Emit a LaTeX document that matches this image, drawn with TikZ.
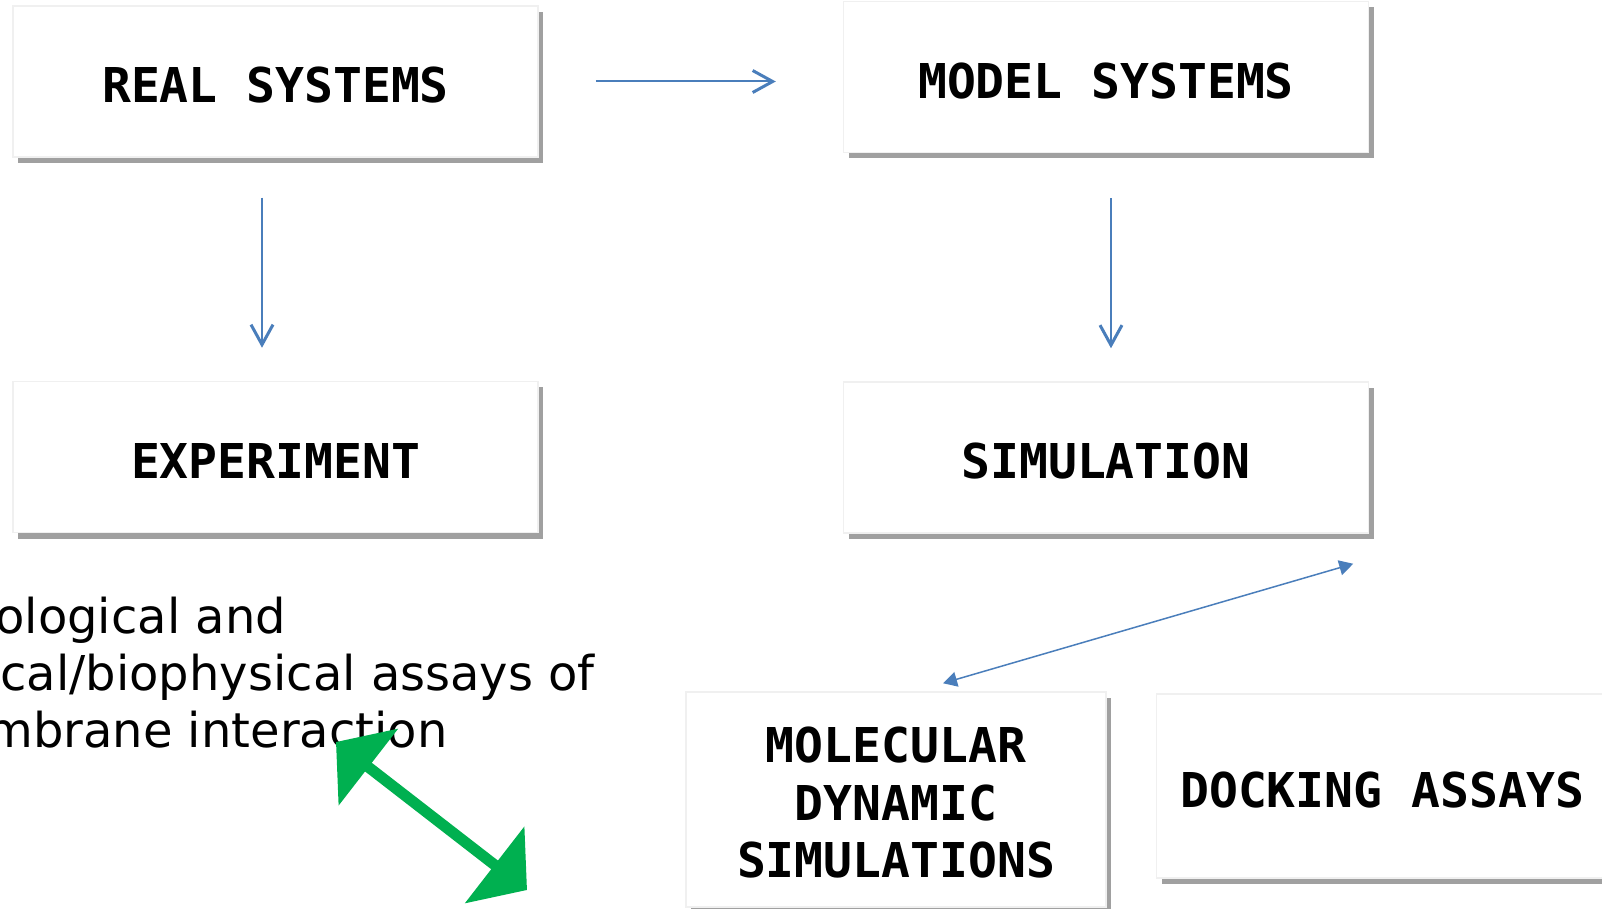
\documentclass[tikz,border=0pt]{standalone}
\usepackage{fontspec}
\setmainfont{DejaVu Sans}
\setmonofont{DejaVu Sans Mono}
\usetikzlibrary{arrows.meta,positioning,shadows}
\definecolor{linkblue}{RGB}{74,126,187}
\definecolor{assaygreen}{RGB}{0,176,80}
\definecolor{shadowgray}{RGB}{160,160,160}
\definecolor{edgegray}{RGB}{240,240,240}

\begin{document}
\begin{tikzpicture}[x=0.5pt,y=-0.5pt,
    box/.style={rectangle,draw=edgegray,line width=0.75pt,fill=white,
      drop shadow={shadow xshift=2.5pt,shadow yshift=-3pt,fill=shadowgray,opacity=1},
      align=center,inner sep=0pt,minimum width=262.5pt,minimum height=75.5pt,text height=21.5pt,
      font=\ttfamily\bfseries\fontsize{24}{28.75}\selectfont},
    link/.style={draw=linkblue,line width=1pt,-{Straight Barb[length=10pt,width=11pt,line width=1.5pt]}},
    twoway/.style={draw=linkblue,line width=0.75pt,{Triangle[length=7pt,width=7.5pt]}-{Triangle[length=7pt,width=7.5pt]}},
    note/.style={anchor=base west,inner sep=0pt,font=\fontsize{24}{28.75}\selectfont}]

    \useasboundingbox (0,0) rectangle (1602,909);
    \fill[white] (0,0) rectangle (1602,909);

    \node[box] (real) at (275.5,81.5) {REAL SYSTEMS};
    \node[box,right=152pt of real,yshift=2.25pt] (model) {MODEL SYSTEMS};
    \node[box,below=111.5pt of real] (exp) {EXPERIMENT};
    \node[box,below=114pt of model] (sim) {SIMULATION};
    \node[box,minimum width=210pt,minimum height=107.5pt,text height=78.5pt] (mol) at (896,799.5) {MOLECULAR\\DYNAMIC\\SIMULATIONS};
    \node[box,minimum width=226pt,minimum height=92pt,right=24.5pt of mol,yshift=6.75pt] (dock) {DOCKING ASSAYS};

    \draw[link,shorten <=28.5pt,shorten >=33.5pt] (real.east) -- (real.east -| model.west);
    \draw[link,shorten <=20pt,shorten >=16.5pt] ([xshift=-6.75pt]real.south) -- ([xshift=-6.75pt]exp.north);
    \draw[link,shorten <=22.5pt,shorten >=16.5pt] ([xshift=2.5pt]model.south) -- ([xshift=2.5pt]sim.north);
    \draw[twoway] ([shift={(-16,30)}]sim.south east) -- ([shift={(47,-8)}]mol.north);

    % assay text, cut at the left edge
    \node[note] (bio1) at (-5,633) {ological and};
    \node[note] (bio2) at (0,690) {cal/biophysical assays of};
    \node[note] (bio3) at (-14,747) {mbrane interaction};

    \coordinate (gtop) at (336,742);
    \coordinate (gbot) at (527,890);
    \draw[assaygreen,line width=5.5pt,{Triangle[length=20.5pt,width=47.5pt]}-{Triangle[length=20.5pt,width=47.5pt]}] (gtop) -- (gbot);
\end{tikzpicture}
\end{document}
